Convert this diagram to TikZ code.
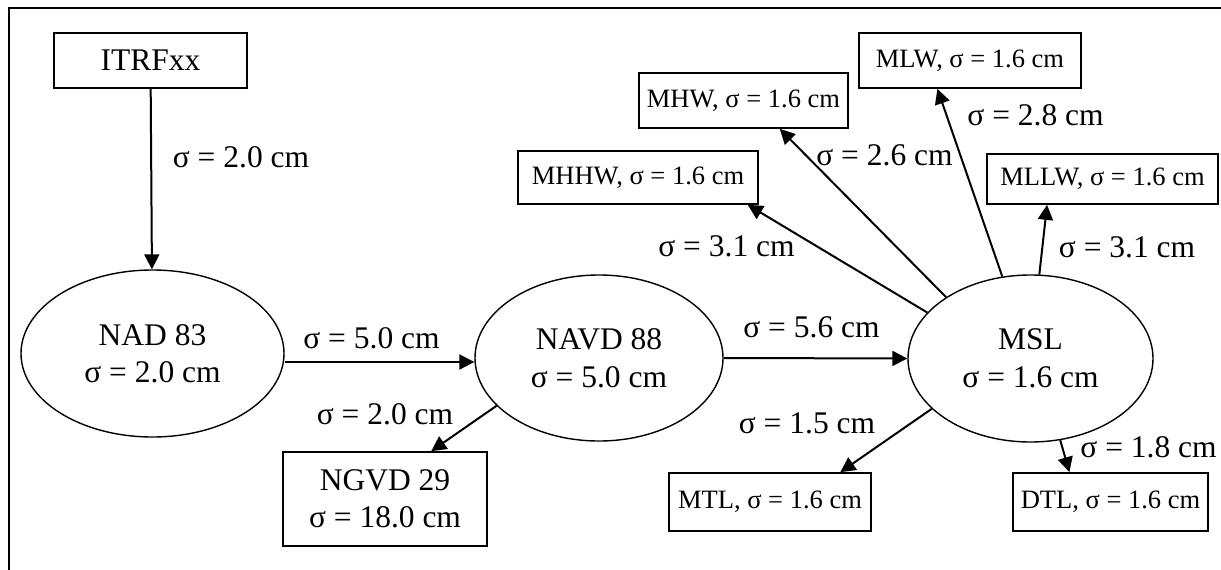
\documentclass[tikz,border=0pt]{standalone}
\usepackage{fontspec}
\setmainfont{Liberation Serif}
\usetikzlibrary{shapes.geometric,arrows.meta,positioning}

\tikzset{
  datum/.style={draw, ellipse, line width=1.4pt, align=center, font=\fontsize{31.5}{37.5}\selectfont},
  refbox/.style={draw, rectangle, line width=1.7pt, align=center, font=\fontsize{31.5}{37}\selectfont},
  tidebox/.style={draw, rectangle, line width=1.7pt, inner xsep=2pt, font=\fontsize{26.5}{30}\selectfont},
  sig/.style={anchor=base, font=\fontsize{31.5}{37.5}\selectfont},
  arr/.style={line width=2pt, -{Triangle[length=15pt,width=15pt]}}
}

\begin{document}
\begin{tikzpicture}[x=1pt, y=-1pt]
        \useasboundingbox (0,0) rectangle (1221,570);
        % Frame
        \draw [line width=1.8pt] (9,570) -- (9,8) -- (1221,8);

        % Geodetic datums
        \node [refbox, minimum width=193pt, minimum height=55pt] (itrf) at (150.5,60.5) {ITRFxx};
        \node [datum, below of=itrf, node distance=293pt, xshift=2pt, minimum width=263pt, minimum height=167pt] (nad) {NAD 83\\σ = 2.0 cm};
        \node [datum, right of=nad, node distance=446.5pt, yshift=-4.5pt, minimum width=248pt, minimum height=166pt] (navd) {NAVD 88\\σ = 5.0 cm};
        \node [refbox, below of=navd, node distance=141pt, xshift=-214pt, minimum width=204pt, minimum height=94pt] (ngvd) {NGVD 29\\σ = 18.0 cm};
        \node [datum, right of=navd, node distance=431.5pt, yshift=-0.5pt, minimum width=245pt, minimum height=167pt] (msl) {MSL\\σ = 1.6 cm};

        % Tidal datums
        \node [tidebox, above of=msl, node distance=181pt, xshift=-392.5pt, minimum width=240pt, minimum height=53pt] (mhhw) {MHHW, σ = 1.6 cm};
        \node [tidebox, above of=msl, node distance=258pt, xshift=-287pt, minimum width=209pt, minimum height=55pt] (mhw) {MHW, σ = 1.6 cm};
        \node [tidebox, above of=msl, node distance=298pt, xshift=-60.5pt, minimum width=222pt, minimum height=55pt] (mlw) {MLW, σ = 1.6 cm};
        \node [tidebox, above of=msl, node distance=179.5pt, xshift=72pt, minimum width=231pt, minimum height=50pt] (mllw) {MLLW, σ = 1.6 cm};
        \node [tidebox, below of=msl, node distance=143.5pt, xshift=-260.5pt, minimum width=202pt, minimum height=58pt] (mtl) {MTL, σ = 1.6 cm};
        \node [tidebox, below of=msl, node distance=143.5pt, xshift=80pt, minimum width=195pt, minimum height=58pt] (dtl) {DTL, σ = 1.6 cm};

        % Arrows
        \draw [arr] (itrf) -- (nad);
        \draw [arr] ([yshift=-8.5pt]nad.east) -- ([yshift=-4pt]navd.west);
        \draw [arr] (navd.205.7) -- (ngvd.46.2);
        \draw [arr] (navd.east) -- (msl.west);
        \draw [arr] (msl.156.3) -- (mhhw.-14.5);
        \draw [arr] (msl.144.1) -- (mhw.-38.3);
        \draw [arr] (msl.109.1) -- (mlw.221.6);
        \draw [arr] (msl.84.2) -- (mllw.205.5);
        \draw [arr] (msl.207.4) -- (mtl.23.3);
        \draw [arr] (msl.290.5) -- (dtl.144.4);

        % Uncertainties
        \node [sig] (s-itrf) at (241,167) {σ = 2.0 cm};
        \node [sig] (s-nad) at (371.5,348) {σ = 5.0 cm};
        \node [sig] (s-ngvd) at (385,424) {σ = 2.0 cm};
        \node [sig] (s-msl) at (811.5,337) {σ = 5.6 cm};
        \node [sig] (s-mhhw) at (726.5,256) {σ = 3.1 cm};
        \node [sig] (s-mhw) at (884.5,165) {σ = 2.6 cm};
        \node [sig] (s-mlw) at (1035.5,125) {σ = 2.8 cm};
        \node [sig] (s-mllw) at (1127,257) {σ = 3.1 cm};
        \node [sig] (s-mtl) at (807,433) {σ = 1.5 cm};
        \node [sig] (s-dtl) at (1148.5,457) {σ = 1.8 cm};
    \end{tikzpicture}
\end{document}
